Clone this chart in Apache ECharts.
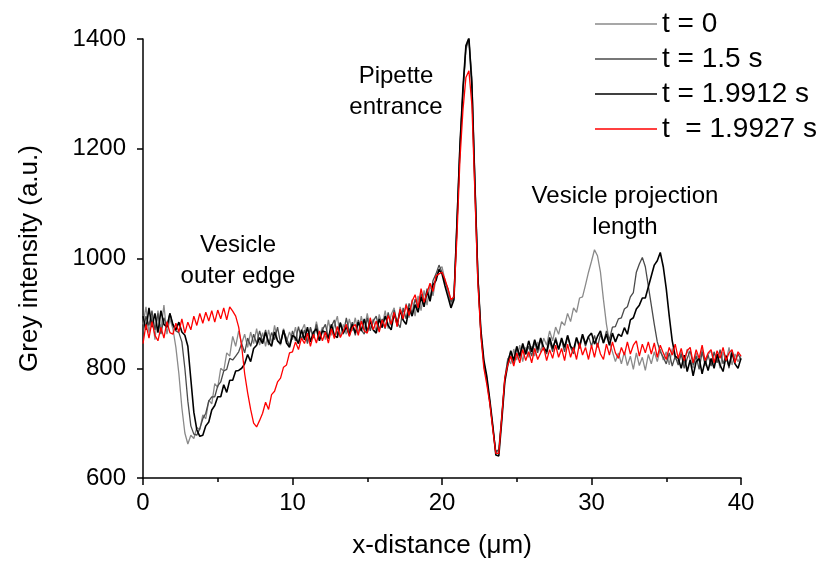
<!DOCTYPE html>
<html>
<head>
<meta charset="utf-8">
<script src="https://cdn.jsdelivr.net/npm/echarts@6/dist/echarts.min.js"></script>
<style>html,body{margin:0;padding:0;background:#fff}#c{width:820px;height:564px}</style>
</head>
<body>
<div id="c"></div>
<script>
// sampling grid of the profiles (µm)
const xStart = 0, xStep = 0.2;
const seriesNames = ['t = 0', 't = 1.5 s', 't = 1.9912 s', 't  = 1.9927 s'];
const xTicks = [0, 10, 20, 30, 40];
const yTicks = [600, 800, 1000, 1200, 1400];

const t0 = [
880,912,865,898,852,905,870,915,862,890,
872,838,790,728,682,662,678,672,692,688,
715,708,742,735,772,765,800,795,828,822,
858,840,868,845,862,838,866,845,872,842,
865,840,870,845,878,850,842,872,848,866,
852,875,845,868,880,850,872,855,885,858,
875,852,888,860,878,895,858,880,862,890,
868,892,862,895,870,900,872,890,866,898,
878,905,872,898,910,876,912,888,918,892,
925,895,932,905,942,915,952,932,965,980,
985,960,938,912,935,1070,1210,1300,1380,1400,
1330,1150,975,860,805,775,735,690,645,650,
710,778,818,808,835,815,842,812,838,820,
840,822,848,830,855,842,868,850,875,862,
885,878,900,885,910,902,928,930,952,975,
995,1016,1005,975,925,880,848,830,812,828,
808,830,805,822,798,828,805,820,796,825,
808,830,812,835,815,830,806,836,818,812,
830,805,835,815,800,828,812,835,804,825,
832,808,826,800,830,812,838,806,826,812,
822];

const t15 = [
865,895,878,905,870,900,862,892,875,900,
878,868,865,848,800,740,695,680,678,690,
708,718,740,748,748,768,775,795,798,818,
815,822,830,845,828,855,840,862,845,868,
848,870,842,865,852,875,846,868,855,840,
868,850,876,852,870,845,875,855,880,852,
870,880,855,876,888,860,884,862,892,866,
884,860,888,870,862,892,868,886,895,870,
890,872,902,878,906,884,874,910,890,918,
900,926,908,936,914,945,926,960,972,988,
975,958,945,920,930,1060,1200,1305,1385,1398,
1320,1140,970,865,810,780,738,692,648,652,
715,782,815,830,810,838,818,842,825,840,
822,848,828,852,834,826,850,830,856,836,
852,830,858,838,826,855,836,860,840,858,
840,860,838,862,846,868,852,875,876,890,
892,908,912,930,938,975,990,1002,985,950,
915,880,848,830,820,808,828,804,822,806,
826,800,818,832,806,822,798,830,808,824,
804,830,810,834,808,824,800,832,812,826,
816];

const t19912 = [
895,870,910,875,900,865,905,880,875,900,
880,870,884,866,860,840,780,720,688,676,
678,695,702,724,732,748,748,770,756,778,
778,795,796,800,808,825,812,836,842,856,
845,865,848,840,866,850,845,870,846,838,
860,856,845,870,852,875,848,866,872,850,
868,866,854,880,860,856,882,864,876,860,
880,864,884,868,890,866,886,870,864,890,
874,895,878,870,900,880,905,888,880,910,
895,916,902,930,912,940,922,952,960,980,
972,950,930,910,925,1065,1205,1310,1388,1402,
1315,1135,965,870,815,785,742,695,642,640,
705,775,806,832,814,840,822,845,826,850,
830,852,834,855,838,830,856,836,852,834,
855,838,860,840,834,856,840,862,844,858,
864,844,858,868,846,862,842,864,848,862,
858,874,862,888,892,908,915,928,928,948,
968,988,996,1011,985,945,895,850,822,818,
800,824,794,815,786,812,818,790,814,796,
818,800,826,806,794,822,804,828,808,800,
818];

const t19927 = [
845,880,855,885,860,850,875,855,885,865,
862,882,866,890,864,884,870,895,878,900,
882,902,886,905,884,906,890,910,888,912,
904,895,875,840,790,755,725,700,693,705,
718,738,725,752,758,775,782,802,806,828,
830,848,834,855,845,864,840,862,846,868,
850,866,846,872,854,876,856,868,880,858,
874,880,860,886,868,864,892,870,886,866,
888,874,896,880,902,876,908,890,916,896,
922,934,910,945,920,938,955,940,968,972,
975,962,945,925,930,1040,1180,1270,1330,1342,
1280,1120,955,860,800,770,735,688,645,645,
712,782,806,822,804,828,810,834,814,830,
810,836,816,828,838,814,834,818,842,820,
836,814,844,820,838,816,846,824,838,816,
842,820,846,826,816,844,824,848,828,818,
838,824,848,826,842,850,822,844,828,848,
826,846,820,842,828,816,838,824,844,818,
836,814,832,838,810,834,818,842,814,828,
834,810,832,818,838,814,828,834,810,830,
822];

const colors = ['#8a8a8a', '#4a4a4a', '#000000', '#ff0000'];
const widths = [1.3, 1.3, 1.6, 1.3];
const allValues = [t0, t15, t19912, t19927];

function pairs(arr) {
  return arr.map((v, i) => [+(xStart + i * xStep).toFixed(2), v]);
}

const FONT = '"Liberation Sans", Arial, sans-serif';
const chart = echarts.init(document.getElementById('c'), null, {renderer: 'canvas'});

chart.setOption({
  animation: false,
  backgroundColor: '#ffffff',
  textStyle: {fontFamily: FONT, color: '#000'},
  grid: {left: 143, right: 79, top: 39, bottom: 84},
  legend: {
    orient: 'vertical',
    left: 590,
    top: 5,
    icon: 'rect',
    itemWidth: 62,
    itemHeight: 1.5,
    itemGap: 7,
    textStyle: {fontSize: 28, lineHeight: 27, color: '#000', fontFamily: FONT},
    data: seriesNames
  },
  xAxis: {
    type: 'value',
    min: xTicks[0],
    max: xTicks[xTicks.length - 1],
    interval: 10,
    name: 'x-distance (\u03bcm)',
    nameLocation: 'middle',
    nameGap: 55,
    nameTextStyle: {fontSize: 26, color: '#000', fontFamily: FONT},
    axisLine: {onZero: false, lineStyle: {color: '#000', width: 1.5}},
    axisTick: {show: true, inside: false, length: 7, lineStyle: {color: '#000', width: 1.5}},
    minorTick: {show: true, splitNumber: 2, length: 4, lineStyle: {color: '#000', width: 1.5}},
    axisLabel: {fontSize: 24, color: '#000', margin: 13, fontFamily: FONT},
    splitLine: {show: false}
  },
  yAxis: {
    type: 'value',
    min: yTicks[0],
    max: yTicks[yTicks.length - 1],
    interval: 200,
    name: 'Grey intensity (a.u.)',
    nameLocation: 'middle',
    nameGap: 100,
    nameRotate: 90,
    nameTextStyle: {fontSize: 26, color: '#000', fontFamily: FONT},
    axisLine: {show: true, onZero: false, lineStyle: {color: '#000', width: 1.5}},
    axisTick: {show: true, inside: false, length: 6, lineStyle: {color: '#000', width: 1.5}},
    axisLabel: {fontSize: 24, color: '#000', margin: 17, fontFamily: FONT, formatter: v => String(v)},
    splitLine: {show: false}
  },
  graphic: [
    {type: 'text', x: 396, y: 92, style: {text: 'Pipette\nentrance', fontSize: 24, lineHeight: 31, fontFamily: FONT, fill: '#000', align: 'center', verticalAlign: 'middle'}},
    {type: 'text', x: 625, y: 212, style: {text: 'Vesicle projection\nlength', fontSize: 24, lineHeight: 31, fontFamily: FONT, fill: '#000', align: 'center', verticalAlign: 'middle'}},
    {type: 'text', x: 238, y: 261, style: {text: 'Vesicle\nouter edge', fontSize: 24, lineHeight: 31, fontFamily: FONT, fill: '#000', align: 'center', verticalAlign: 'middle'}}
  ],
  series: seriesNames.map((n, k) => ({
    name: n,
    type: 'line',
    data: pairs(allValues[k]),
    symbol: 'none',
    showSymbol: false,
    color: colors[k],
    lineStyle: {color: colors[k], width: widths[k]},
    itemStyle: {color: colors[k]},
    z: 2 + k
  }))
});
</script>
</body>
</html>
